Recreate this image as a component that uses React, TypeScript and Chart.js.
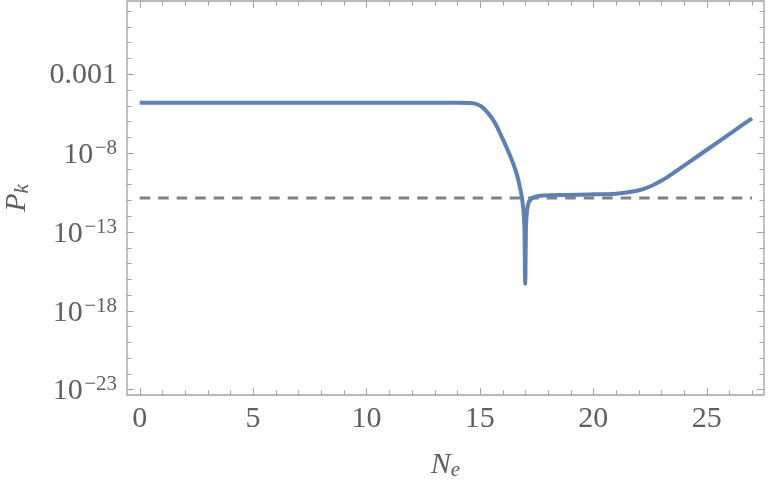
import React, { useEffect, useRef } from "react";
import { Chart, registerables } from "chart.js";

Chart.register(...registerables);

// ---- data ----
const neValues = [0, 5, 10, 14, 14.7, 14.9, 15.08, 15.37, 15.67, 15.96, 16.25, 16.5, 16.65, 16.77, 16.86, 16.93, 16.97, 17.0, 17.03, 17.06, 17.12, 17.25, 17.45, 17.8, 18.8, 20.0, 21.0, 21.75, 22.2, 22.6, 23.0, 23.5, 24.71, 25.88, 27.0];
const pkValues = [1.5e-5, 1.5e-5, 1.5e-5, 1.5e-5, 1.42e-5, 1.17e-5, 8.5e-6, 3.2e-6, 7.9e-7, 1.07e-7, 1.26e-8, 1.6e-9, 3.5e-10, 6.3e-11, 1.26e-11, 1.6e-12, 1.0e-13, 5.0e-17, 1.0e-13, 1.0e-12, 5.0e-12, 1.12e-11, 1.66e-11, 2.0e-11, 2.14e-11, 2.35e-11, 2.6e-11, 3.55e-11, 5.1e-11, 8.5e-11, 1.7e-10, 4.9e-10, 7.9e-9, 1.17e-7, 1.55e-6];
const thresholdNe = [0, 27];
const thresholdPk = [1.38e-11, 1.38e-11];

const xTickValues = [0, 5, 10, 15, 20, 25];
const xTickLabels = ["0", "5", "10", "15", "20", "25"];
const yTickValues = [1e-3, 1e-8, 1e-13, 1e-18, 1e-23];
const yTickLabels = ["0.001", "10^−8", "10^−13", "10^−18", "10^−23"];
const xMinorTicks = Array.from({ length: 28 }, (_, i) => i);
const yMinorExponents = Array.from({ length: 25 }, (_, i) => 1 - i);

const xTitle = ["N", "e"];
const yTitle = ["P", "k"];

const FRAME = "#a2a2a2";
const LABEL = "#606060";
const SERIF = '"Liberation Serif", "Times New Roman", Times, serif';

const framePlugin = {
  id: "mmaFrame",
  afterDatasetsDraw(chart: any) {
    const { ctx, chartArea: a, scales } = chart;
    const xs = scales.x;
    const ys = scales.y;
    ctx.save();
    ctx.strokeStyle = FRAME;
    ctx.lineWidth = 1.3;
    ctx.beginPath();
    ctx.rect(a.left, a.top, a.right - a.left, a.bottom - a.top);
    ctx.stroke();

    ctx.lineWidth = 1;
    ctx.beginPath();
    for (const v of xMinorTicks) {
      const px = Math.round(xs.getPixelForValue(v)) + 0.5;
      const len = v % 5 === 0 ? 7 : 4.5;
      ctx.moveTo(px, a.bottom);
      ctx.lineTo(px, a.bottom - len);
      ctx.moveTo(px, a.top);
      ctx.lineTo(px, a.top + len);
    }
    for (const e of yMinorExponents) {
      const py = Math.round(ys.getPixelForValue(Math.pow(10, e))) + 0.5;
      const len = (e + 3) % 5 === 0 ? 7 : 4.5;
      ctx.moveTo(a.left, py);
      ctx.lineTo(a.left + len, py);
      ctx.moveTo(a.right, py);
      ctx.lineTo(a.right - len, py);
    }
    ctx.stroke();

    // tick labels
    ctx.fillStyle = LABEL;
    ctx.textBaseline = "alphabetic";
    ctx.font = `30px ${SERIF}`;
    ctx.textAlign = "center";
    xTickValues.forEach((v, i) => {
      ctx.fillText(xTickLabels[i], xs.getPixelForValue(v), 426.5);
    });

    const rightEdge = a.left - 10;
    yTickValues.forEach((v, i) => {
      const py = ys.getPixelForValue(v);
      const lab = yTickLabels[i];
      if (lab.includes("^")) {
        const [base, sup] = lab.split("^");
        ctx.font = `21px ${SERIF}`;
        const supW = ctx.measureText(sup).width;
        ctx.textAlign = "right";
        const baseY = py + 10;
        ctx.fillText(sup, rightEdge, baseY - 9);
        ctx.font = `30px ${SERIF}`;
        ctx.fillText(base, rightEdge - supW - 1.5, baseY);
      } else {
        ctx.font = `30px ${SERIF}`;
        ctx.textAlign = "right";
        ctx.fillText(lab, rightEdge, py + 9);
      }
    });

    // axis titles
    const cx = (a.left + a.right) / 2;
    ctx.font = `italic 30px ${SERIF}`;
    const nW = ctx.measureText(xTitle[0]).width;
    ctx.font = `italic 21px ${SERIF}`;
    const eW = ctx.measureText(xTitle[1]).width;
    const startX = cx - (nW + eW) / 2;
    ctx.textAlign = "left";
    ctx.font = `italic 30px ${SERIF}`;
    ctx.fillText(xTitle[0], startX, 473);
    ctx.font = `italic 21px ${SERIF}`;
    ctx.fillText(xTitle[1], startX + nW, 476);

    const cy = (a.top + a.bottom) / 2;
    ctx.save();
    ctx.translate(25, cy);
    ctx.rotate(-Math.PI / 2);
    ctx.font = `italic 30px ${SERIF}`;
    const pW = ctx.measureText(yTitle[0]).width;
    ctx.font = `italic 21px ${SERIF}`;
    const kW = ctx.measureText(yTitle[1]).width;
    const sx = -(pW + kW) / 2;
    ctx.font = `italic 30px ${SERIF}`;
    ctx.fillText(yTitle[0], sx, 0);
    ctx.font = `italic 21px ${SERIF}`;
    ctx.fillText(yTitle[1], sx + pW, 3);
    ctx.restore();

    ctx.restore();
  },
};

export default function App() {
  const ref = useRef<HTMLCanvasElement | null>(null);
  useEffect(() => {
    if (!ref.current) return;
    const chart = new Chart(ref.current, {
      type: "line",
      data: {
        datasets: [
          {
            data: neValues.map((x, i) => ({ x, y: pkValues[i] })),
            borderColor: "rgb(94,129,181)",
            borderWidth: 4,
            pointRadius: 0,
            cubicInterpolationMode: "monotone",
            fill: false,
            borderJoinStyle: "round",
          },
          {
            data: thresholdNe.map((x, i) => ({ x, y: thresholdPk[i] })),
            borderColor: "rgb(128,128,128)",
            borderWidth: 3,
            borderDash: [10.5, 8],
            pointRadius: 0,
            fill: false,
          },
        ],
      },
      options: {
        animation: false,
        responsive: false,
        devicePixelRatio: 1,
        layout: { padding: { left: 0, top: 1, right: 11, bottom: 0 } },
        plugins: { legend: { display: false }, tooltip: { enabled: false } },
        scales: {
          x: {
            type: "linear",
            min: -0.56,
            max: 27.53,
            grid: { display: false },
            border: { display: false },
            ticks: { display: false },
            afterFit: (s: any) => {
              s.height = 90;
            },
          },
          y: {
            type: "logarithmic",
            min: Math.pow(10, -23.35),
            max: Math.pow(10, 1.63),
            grid: { display: false },
            border: { display: false },
            ticks: { display: false },
            afterFit: (s: any) => {
              s.width = 127;
            },
          },
        },
      },
      plugins: [framePlugin],
    } as any);
    return () => chart.destroy();
  }, []);
  return (
    <div style={{ position: "absolute", left: 0, top: 0, width: 775, height: 485, background: "#fff" }}>
      <canvas ref={ref} width={775} height={485} />
    </div>
  );
}
